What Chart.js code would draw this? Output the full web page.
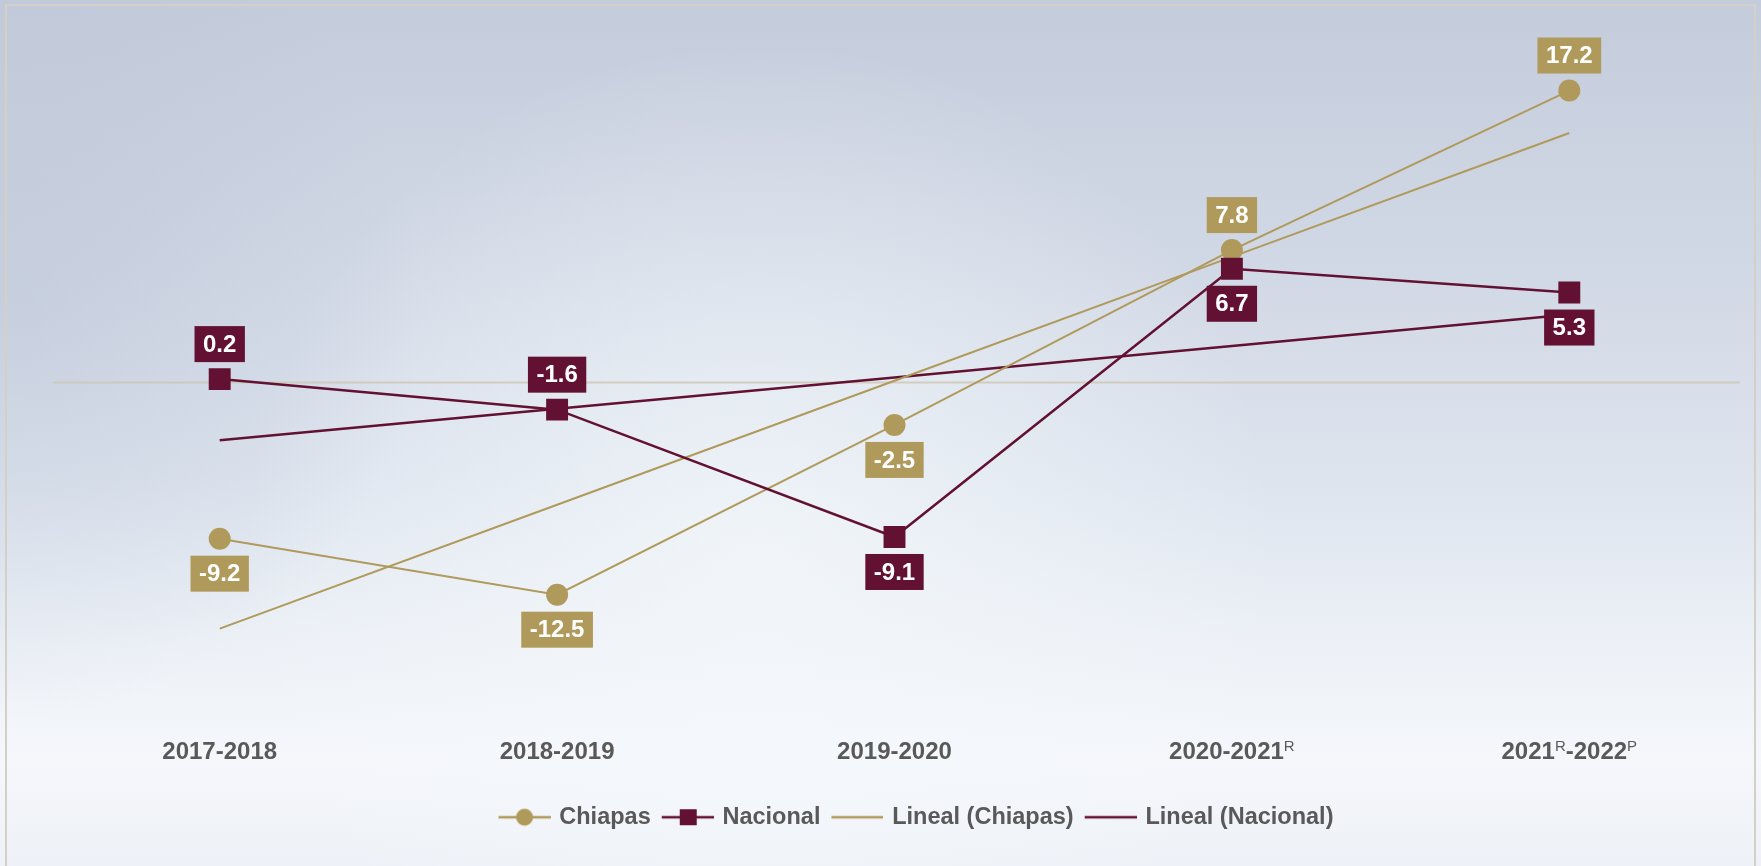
<!DOCTYPE html>
<html>
<head>
<meta charset="utf-8">
<script src="https://cdn.jsdelivr.net/npm/chart.js@4.4.0/dist/chart.umd.min.js"></script>
<style>
    html, body { margin: 0; padding: 0; overflow: hidden; background: #ffffff; }
    #wrap { position: relative; width: 1761px; height: 866px; }
</style>
</head>
<body>
<div id="wrap"><canvas id="chart"></canvas></div>
<script>
// Categories (^ marks a superscript letter)
const periods = ['2017-2018', '2018-2019', '2019-2020', '2020-2021^R', '2021^R-2022^P'];

// Series values
const chiapas = [-9.2, -12.5, -2.5, 7.8, 17.2];
const nacional = [0.2, -1.6, -9.1, 6.7, 5.3];

// Trend lines
const linealChiapas = [-14.5, -7.2, 0.1, 7.4, 14.7];
const linealNacional = [-3.4, -1.55, 0.3, 2.15, 4.0];

// Which side of the point each value label sits on
const chiapasLabelSide = ['below', 'below', 'below', 'above', 'above'];
const nacionalLabelSide = ['above', 'above', 'below', 'below', 'below'];

const GOLD = '#B09A5B';
const WINE = '#621132';
const TEXT = '#595959';
const FONT = "'Liberation Sans', Arial, sans-serif";

// legend icons: short line with the marker on top (shifted 3px right)
function makeIcon(color, marker, lineWidth) {
    const c = document.createElement('canvas');
    c.width = 58;
    c.height = 24;
    const g = c.getContext('2d');
    g.strokeStyle = color;
    g.lineWidth = lineWidth;
    g.beginPath();
    g.moveTo(6, 12);
    g.lineTo(58, 12);
    g.stroke();
    g.fillStyle = color;
    if (marker === 'circle') {
        g.beginPath();
        g.ellipse(32, 12, 8.5, 8.5, 0, 0, Math.PI * 2);
        g.fill();
    } else if (marker === 'rect') {
        g.fillRect(24, 4, 17, 16);
    }
    return c;
}

const legendIcons = [
    makeIcon(GOLD, 'circle', 2.5),
    makeIcon(WINE, 'rect', 2.5),
    makeIcon(GOLD, null, 2.5),
    makeIcon(WINE, null, 2.5)
];

const backdrop = {
    id: 'backdrop',
    afterLayout(chart) {
        // legend row sits a bit right of the plot centre in the original
        const lg = chart.legend;
        lg.left += 20;
        lg.right += 20;
        lg.top += 2.5;
        lg.bottom += 2.5;
    },
    beforeDraw(chart) {
        const { ctx, width, height } = chart;
        ctx.save();
        const g = ctx.createLinearGradient(0, 0, 0, height);
        g.addColorStop(0, '#c4cbdb');
        g.addColorStop(0.3, '#d1d8e5');
        g.addColorStop(0.55, '#dde4ee');
        g.addColorStop(0.75, '#edf1f7');
        g.addColorStop(0.88, '#f5f7fb');
        g.addColorStop(1, '#eef1f7');
        ctx.fillStyle = g;
        ctx.fillRect(0, 0, width, height);

        // soft light patch in the middle
        const r = ctx.createRadialGradient(760, 560, 20, 760, 560, 520);
        r.addColorStop(0, 'rgba(245,249,252,0.7)');
        r.addColorStop(1, 'rgba(245,249,252,0)');
        ctx.fillStyle = r;
        ctx.fillRect(0, 0, width, height);

        // slightly darker left edge, fading out
        const l = ctx.createRadialGradient(0, 300, 10, 0, 300, 420);
        l.addColorStop(0, 'rgba(175,186,208,0.35)');
        l.addColorStop(1, 'rgba(175,186,208,0)');
        ctx.fillStyle = l;
        ctx.fillRect(0, 0, 500, height);

        // frame
        ctx.strokeStyle = '#d3d0c8';
        ctx.lineWidth = 2;
        ctx.strokeRect(6, 5, width - 12, height + 10);
        ctx.restore();
    },
    beforeDatasetsDraw(chart) {
        const { ctx, chartArea, scales } = chart;
        const y0 = scales.y.getPixelForValue(0);
        ctx.save();
        ctx.strokeStyle = 'rgba(205,198,180,0.8)';
        ctx.lineWidth = 2;
        ctx.beginPath();
        ctx.moveTo(chartArea.left + 2, y0);
        ctx.lineTo(chartArea.right + 2, y0);
        ctx.stroke();

        // category labels with superscripts
        const yLab = chartArea.bottom - 43;
        periods.forEach((p, i) => {
            const parts = [];
            let buf = '';
            for (let k = 0; k < p.length; k++) {
                if (p[k] === '^') {
                    if (buf) parts.push({ t: buf, sup: false });
                    buf = '';
                    parts.push({ t: p[k + 1], sup: true });
                    k++;
                } else {
                    buf += p[k];
                }
            }
            if (buf) parts.push({ t: buf, sup: false });
            const big = 'bold 24px ' + FONT;
            const small = '15px ' + FONT;
            let total = 0;
            parts.forEach(s => {
                ctx.font = s.sup ? small : big;
                s.w = ctx.measureText(s.t).width;
                total += s.w;
            });
            let x = scales.x.getPixelForValue(i) - total / 2;
            ctx.fillStyle = TEXT;
            ctx.textAlign = 'left';
            parts.forEach(s => {
                ctx.font = s.sup ? small : big;
                ctx.textBaseline = s.sup ? 'alphabetic' : 'middle';
                ctx.fillText(s.t, x, s.sup ? yLab - 1 : yLab);
                x += s.w;
            });
        });
        ctx.restore();
    }
};

const valueBoxes = {
    id: 'valueBoxes',
    afterDatasetsDraw(chart) {
        const { ctx } = chart;
        ctx.save();
        ctx.font = 'bold 24px ' + FONT;
        ctx.textAlign = 'center';
        ctx.textBaseline = 'middle';
        chart.data.datasets.forEach((ds, di) => {
            if (!ds.labelSide) return;
            const meta = chart.getDatasetMeta(di);
            meta.data.forEach((pt, i) => {
                const txt = ds.data[i].toFixed(1);
                const w = ctx.measureText(txt).width + 17;
                const h = 36;
                const cy = pt.y + (ds.labelSide[i] === 'above' ? -35 : 35);
                ctx.fillStyle = ds.borderColor;
                ctx.fillRect(pt.x - w / 2, cy - h / 2, w, h);
                ctx.fillStyle = '#ffffff';
                ctx.fillText(txt, pt.x, cy + 1);
            });
        });
        ctx.restore();
    }
};

new Chart(document.getElementById('chart'), {
    type: 'line',
    data: {
        labels: periods.map(p => p.replace(/\^/g, '')),
        datasets: [
            {
                label: 'Chiapas',
                data: chiapas,
                borderColor: GOLD,
                backgroundColor: GOLD,
                borderWidth: 2,
                pointStyle: 'circle',
                pointRadius: 11,
                pointBorderWidth: 0,
                labelSide: chiapasLabelSide,
                order: 1
            },
            {
                label: 'Nacional',
                data: nacional,
                borderColor: WINE,
                backgroundColor: WINE,
                borderWidth: 2.5,
                pointStyle: 'rect',
                pointRadius: 15.5,
                pointBorderWidth: 0,
                labelSide: nacionalLabelSide,
                order: 0
            },
            {
                label: 'Lineal (Chiapas)',
                data: linealChiapas,
                borderColor: GOLD,
                backgroundColor: GOLD,
                borderWidth: 2,
                pointRadius: 0,
                order: 2
            },
            {
                label: 'Lineal (Nacional)',
                data: linealNacional,
                borderColor: WINE,
                backgroundColor: WINE,
                borderWidth: 2.5,
                pointRadius: 0,
                order: 3
            }
        ]
    },
    options: {
        responsive: true,
        maintainAspectRatio: false,
        animation: false,
        layout: { padding: { left: 51, right: 23, top: 43, bottom: 29.5 } },
        scales: {
            x: { display: false, offset: true },
            y: { display: false, min: -24.3, max: 20 }
        },
        plugins: {
            tooltip: { enabled: false },
            legend: {
                position: 'bottom',
                labels: {
                    usePointStyle: true,
                    pointStyleWidth: 52,
                    padding: 8,
                    color: TEXT,
                    font: { family: FONT, size: 23.5, weight: 'bold' },
                    generateLabels(chart) {
                        const items = Chart.defaults.plugins.legend.labels.generateLabels(chart);
                        items.sort((a, b) => a.datasetIndex - b.datasetIndex);
                        items.forEach(it => { it.pointStyle = legendIcons[it.datasetIndex]; });
                        return items;
                    }
                }
            }
        }
    },
    plugins: [backdrop, valueBoxes]
});
</script>
</body>
</html>
